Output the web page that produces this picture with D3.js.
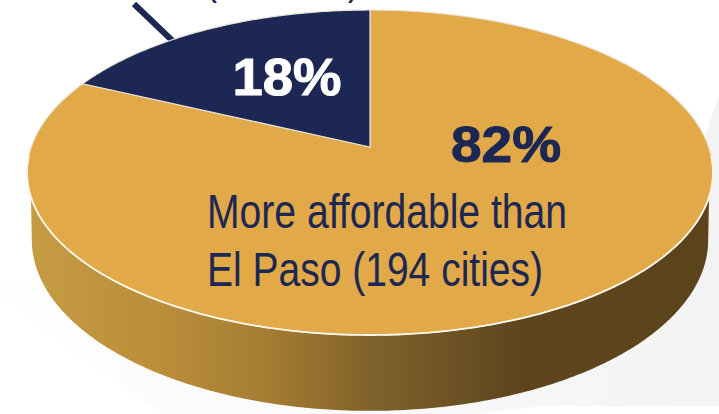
<!DOCTYPE html>
<html>
<head>
<meta charset="utf-8">
<script src="https://cdn.jsdelivr.net/npm/d3@7"></script>
<style>
  html, body { margin: 0; padding: 0; background: #fff; }
  svg { display: block; }
  text { font-family: "Liberation Sans", Arial, sans-serif; }
</style>
</head>
<body>
<svg id="chart" width="719" height="414"></svg>
<script>
const categories = ["More affordable than El Paso", "Less affordable than El Paso"];
const shares = [82, 18];
const sliceColors = ["#e1a947", "#1c2753"];
const insideLines = ["More affordable than", "El Paso (194 cities)"];
const clippedLine = "(43 cities)";

const svg = d3.select("#chart");
const defs = svg.append("defs");

// Perspective view of a tilted disc; (u, v) lie on the unit circle plane.
const lens = 0.157;
const topFace = { cx: 370, cy: 147, a: 338.7, b: 158.5 };
const baseFace = { cx: 370, cy: 213, a: 334, b: 166.8 };
const project = (face, angle) => {
  const u = Math.sin(angle), v = -Math.cos(angle);
  const w = 1 - lens * v;
  return [face.cx + face.a * u / w, face.cy + face.b * v / w];
};
const line = d3.line();
const sweep = (face, from, to) => {
  const n = Math.max(2, Math.ceil(Math.abs(to - from) / 0.01));
  return d3.range(n + 1).map(i => project(face, from + (to - from) * i / n));
};

const slices = d3.pie().sort(null).value(d => d)(shares);

// Faint cast shadow under the disc
const shade = defs.append("linearGradient").attr("id", "shade");
shade.append("stop").attr("offset", "0").attr("stop-color", "#fefefe");
shade.append("stop").attr("offset", "0.5").attr("stop-color", "#fafafa");
shade.append("stop").attr("offset", "1").attr("stop-color", "#f3f3f3");
svg.append("path")
  .attr("d", line([[0, 285], [40, 285], [370, 200], [700, 150], [719, 95], [719, 406], [540, 406], [480, 414], [160, 414], [23, 313], [0, 295]]) + "Z")
  .attr("fill", "url(#shade)");

// Outer wall, shaded from left to right
const wall = defs.append("linearGradient").attr("id", "wall")
  .attr("gradientUnits", "userSpaceOnUse")
  .attr("x1", 28).attr("x2", 713).attr("y1", 0).attr("y2", 0);
[[0, "#c69c43"], [0.2, "#b98d3a"], [0.35, "#a57d32"], [0.5, "#80622a"], [0.72, "#5e451e"], [1, "#5b431c"]]
  .forEach(([o, c]) => wall.append("stop").attr("offset", o).attr("stop-color", c));
const rimFrom = 1.876, rimTo = 2 * Math.PI - rimFrom;
const baseFrom = 1.729, baseTo = 2 * Math.PI - baseFrom;
svg.append("path")
  .attr("d", line(sweep(topFace, rimFrom, rimTo).concat(sweep(baseFace, baseTo, baseFrom))) + "Z")
  .attr("fill", "url(#wall)");

// Leader line running off the top edge
svg.append("line")
  .attr("x1", 134).attr("y1", 4).attr("x2", 178).attr("y2", 46)
  .attr("stroke", sliceColors[1]).attr("stroke-width", 6);

// Top face slices
svg.selectAll("path.slice")
  .data(slices)
  .join("path")
  .attr("class", "slice")
  .attr("d", d => line([[topFace.cx, topFace.cy]].concat(sweep(topFace, d.startAngle, d.endAngle))) + "Z")
  .attr("fill", (d, i) => sliceColors[i])
  .attr("stroke", "#e9e3d6")
  .attr("stroke-width", 1.2)
  .attr("stroke-linejoin", "round");

// Bright highlight where the top face meets the wall
svg.append("path")
  .attr("d", line(sweep(topFace, rimFrom - 0.25, rimTo + 0.25)))
  .attr("fill", "none")
  .attr("stroke", "#fbf6ea")
  .attr("stroke-width", 1.8);

// Percentage labels, thickened slightly with a matching outline
svg.append("text").text(shares[0] + "%")
  .attr("x", 506).attr("y", 162).attr("text-anchor", "middle")
  .attr("font-size", 50).attr("font-weight", 700).attr("fill", sliceColors[1])
  .attr("stroke", sliceColors[1]).attr("stroke-width", 1)
  .attr("textLength", 110).attr("lengthAdjust", "spacingAndGlyphs");
svg.append("text").text(shares[1] + "%")
  .attr("x", 287).attr("y", 95).attr("text-anchor", "middle")
  .attr("font-size", 51).attr("font-weight", 700).attr("fill", "#fff")
  .attr("stroke", "#fff").attr("stroke-width", 1)
  .attr("textLength", 109).attr("lengthAdjust", "spacingAndGlyphs");

// Description inside the large slice
svg.selectAll("text.note")
  .data(insideLines)
  .join("text")
  .attr("class", "note")
  .text(d => d)
  .attr("x", 207).attr("y", (d, i) => 228 + i * 58)
  .attr("font-size", 48).attr("fill", sliceColors[1])
  .attr("textLength", (d, i) => i === 0 ? 360 : 336)
  .attr("lengthAdjust", "spacingAndGlyphs");

// Caption of the small slice, cut by the top edge
svg.append("text").text(clippedLine)
  .attr("x", 205).attr("y", -7)
  .attr("font-size", 48).attr("fill", sliceColors[1])
  .attr("textLength", 155).attr("lengthAdjust", "spacingAndGlyphs");
</script>
</body>
</html>
